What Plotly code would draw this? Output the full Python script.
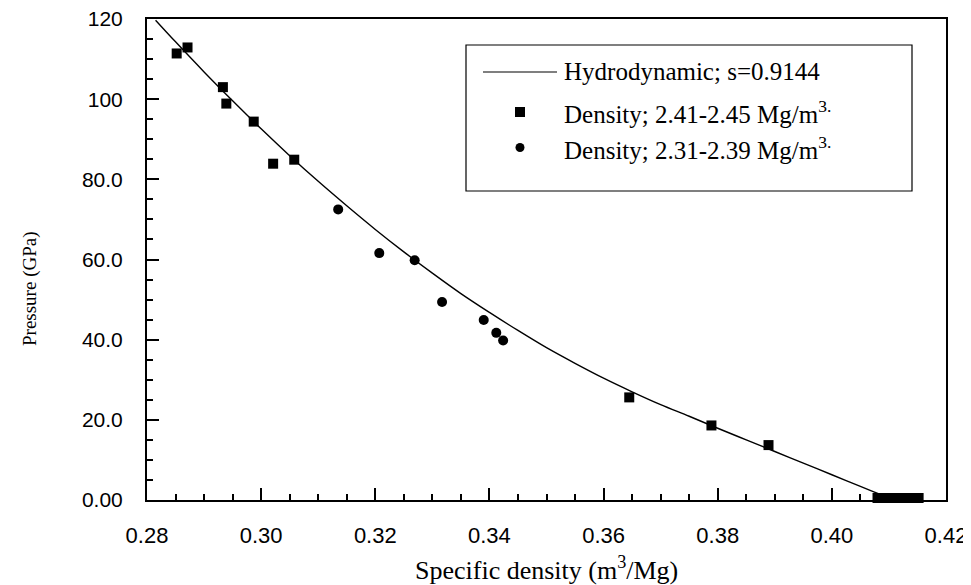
import plotly.graph_objects as go

# Hydrodynamic curve
curve_v = [0.2815, 0.2850, 0.2900, 0.2950, 0.3000, 0.3050, 0.3100, 0.3150, 0.3200,
           0.3250, 0.3300, 0.3350, 0.3400, 0.3450, 0.3500, 0.3550, 0.3600, 0.3650,
           0.3700, 0.3750, 0.3800, 0.3850, 0.3900, 0.3950, 0.4000, 0.4050, 0.4100, 0.4109]
curve_p = [119.7, 114.3, 106.8, 99.6, 92.6, 85.9, 79.5, 73.4, 67.5,
           61.9, 56.6, 51.5, 46.8, 42.3, 38.0, 34.1, 30.4, 27.0,
           23.8, 20.9, 17.9, 15.0, 12.1, 9.2, 6.3, 3.4, 0.5, 0.0]

# Density 2.41-2.45 Mg/m3 (squares)
sq_v = [0.2852, 0.2871, 0.2933, 0.2939, 0.2987, 0.3021, 0.3058, 0.3645, 0.3789, 0.3889,
        0.4080, 0.4092, 0.4104, 0.4116, 0.4128, 0.4140, 0.4152]
sq_p = [111.4, 112.9, 103.0, 98.9, 94.4, 83.9, 84.9, 25.6, 18.6, 13.7,
        0.5, 0.5, 0.5, 0.5, 0.5, 0.5, 0.5]

# Density 2.31-2.39 Mg/m3 (circles)
ci_v = [0.3135, 0.3207, 0.3269, 0.3317, 0.3390, 0.3412, 0.3424]
ci_p = [72.5, 61.6, 59.8, 49.4, 44.9, 41.7, 39.8]

x_ticks = [0.28, 0.30, 0.32, 0.34, 0.36, 0.38, 0.40, 0.42]
x_ticktext = ["0.28", "0.30", "0.32", "0.34", "0.36", "0.38", "0.40", "0.42"]
y_ticks = [0, 20, 40, 60, 80, 100, 120]
y_ticktext = ["0.00", "20.0", "40.0", "60.0", "80.0", "100", "120"]

legend_labels = ["Hydrodynamic; s=0.9144",
                 "Density; 2.41-2.45 Mg/m<sup>3.</sup>",
                 "Density; 2.31-2.39 Mg/m<sup>3.</sup>"]
x_title = "Specific density (m<sup>3</sup>/Mg)"
y_title = "Pressure (GPa)"

serif = "Liberation Serif, Times New Roman, serif"
sans = "Liberation Sans, Arial, sans-serif"

fig = go.Figure()
fig.add_trace(go.Scatter(x=curve_v, y=curve_p, mode="lines",
                         line=dict(color="black", width=1.4, shape="spline", smoothing=1.0),
                         showlegend=False, cliponaxis=True))
fig.add_trace(go.Scatter(x=sq_v, y=sq_p, mode="markers", marker=dict(symbol="square", size=10, color="black"),
                         showlegend=False, cliponaxis=False))
fig.add_trace(go.Scatter(x=ci_v, y=ci_p, mode="markers", marker=dict(symbol="circle", size=10, color="black"),
                         showlegend=False, cliponaxis=False))

# page body has an 8px margin; figure sized to fill the rest of the window
OFF = 8
W, H = 971 - OFF, 585 - OFF
L, R, T, B = 147 - OFF, 25, 19 - OFF, 85
pw, ph = W - L - R, H - T - B

def px(xp):  # page pixel -> paper
    return (xp - OFF - L) / pw

def py(yp):
    return 1 - (yp - OFF - T) / ph

shapes = [
    dict(type="rect", xref="paper", yref="paper", x0=px(466), x1=px(912), y0=py(191), y1=py(45),
         line=dict(color="black", width=1.2), fillcolor="white", layer="above"),
    dict(type="line", xref="paper", yref="paper", x0=px(483), x1=px(557), y0=py(72), y1=py(72),
         line=dict(color="black", width=1.2)),
    dict(type="rect", xref="paper", yref="paper", x0=px(515), x1=px(525), y0=py(117), y1=py(107),
         fillcolor="black", line=dict(width=0)),
    dict(type="circle", xref="paper", yref="paper", x0=px(515.5), x1=px(524.5), y0=py(152), y1=py(143),
         fillcolor="black", line=dict(width=0)),
]
annotations = []
for lbl, yy in zip(legend_labels, [72, 112, 148]):
    annotations.append(dict(xref="paper", yref="paper", x=px(562), y=py(yy), text=lbl, showarrow=False,
                            xanchor="left", yanchor="middle", font=dict(family=serif, size=25, color="black")))
annotations.append(dict(xref="paper", yref="paper", x=px(546), y=py(568), text=x_title, showarrow=False,
                        xanchor="center", yanchor="middle", font=dict(family=serif, size=26, color="black")))
annotations.append(dict(xref="paper", yref="paper", x=px(30), y=py(289), text=y_title, showarrow=False,
                        textangle=-90, xanchor="center", yanchor="middle",
                        font=dict(family=serif, size=19, color="black")))

fig.update_layout(
    width=W, height=H,
    margin=dict(l=L, r=R, t=T, b=B, autoexpand=False),
    paper_bgcolor="white", plot_bgcolor="white",
    shapes=shapes, annotations=annotations,
    xaxis=dict(range=[0.28, 0.42], tickmode="array", tickvals=x_ticks, ticktext=x_ticktext,
               ticks="inside", ticklen=12, tickwidth=2, tickcolor="black", automargin=False,
               ticklabeloverflow="allow",
               showline=True, linecolor="black", linewidth=2, mirror=True, showgrid=False, zeroline=False,
               tickfont=dict(family=sans, size=22, color="black"), ticklabelstandoff=15,
               minor=dict(tickmode="linear", tick0=0.28, dtick=0.005, ticks="inside", ticklen=6,
                          tickwidth=2, tickcolor="black", showgrid=False)),
    yaxis=dict(range=[0, 120], tickmode="array", tickvals=y_ticks, ticktext=y_ticktext,
               ticks="inside", ticklen=12, tickwidth=2, tickcolor="black", automargin=False,
               ticklabeloverflow="allow",
               showline=True, linecolor="black", linewidth=2, mirror=True, showgrid=False, zeroline=False,
               tickfont=dict(family=sans, size=21, color="black"), ticklabelstandoff=18,
               minor=dict(tickmode="linear", tick0=0, dtick=5, ticks="inside", ticklen=6,
                          tickwidth=2, tickcolor="black", showgrid=False)),
)

fig.write_html("out.html")
